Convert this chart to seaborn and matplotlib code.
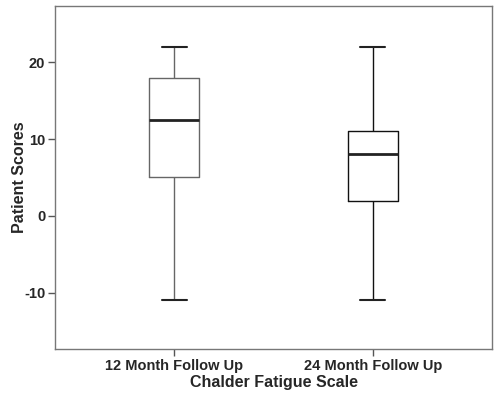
import matplotlib
matplotlib.use("Agg")
import matplotlib.pyplot as plt
import pandas as pd
import seaborn as sns

FONT = {"family": "Liberation Sans", "weight": "bold", "size": 11.5}

groups = ["12 Month Follow Up", "24 Month Follow Up"]
# five-number summaries: min, Q1, median, Q3, max
scores_12 = [-11, 5, 12.5, 18, 22]
scores_24 = [-11, 2, 8, 11, 22]
line_colors = ["#666666", "#111111"]

df = pd.DataFrame({
    "group": [groups[0]] * len(scores_12) + [groups[1]] * len(scores_24),
    "score": scores_12 + scores_24,
})

sns.set_style("white")
plt.rcParams["font.family"] = ["Liberation Sans", "DejaVu Sans"]
plt.rcParams["axes.unicode_minus"] = False

fig, ax = plt.subplots(figsize=(5, 4.01), dpi=100)
fig.subplots_adjust(left=0.11, right=0.984, top=0.985, bottom=0.13)

sns.boxplot(
    x="group", y="score", hue="group", data=df, order=groups, hue_order=groups,
    palette=line_colors, legend=False, ax=ax,
    width=0.25, whis=(0, 100), fill=False, showfliers=False,
    linewidth=1.0,
    medianprops={"color": "#222222", "linewidth": 2.0},
    capprops={"color": "#222222", "linewidth": 1.5},
)

ax.set_xlim(-0.6, 1.6)
ax.set_ylim(-17.3, 27.3)
ax.set_yticks([-10, 0, 10, 20])

ax.set_xlabel("Chalder Fatigue Scale", fontdict=FONT, labelpad=2)
ax.set_ylabel("Patient Scores", fontdict=FONT, labelpad=-2)

for lbl in ax.get_xticklabels() + ax.get_yticklabels():
    lbl.set_fontweight("bold")
    lbl.set_fontsize(10.5)

ax.tick_params(axis="both", direction="out", length=5, width=1, color="#555555",
               left=True, bottom=True, pad=2)
for side in ax.spines.values():
    side.set_color("#777777")
    side.set_linewidth(1.0)

plt.savefig("out.png", dpi=100)
